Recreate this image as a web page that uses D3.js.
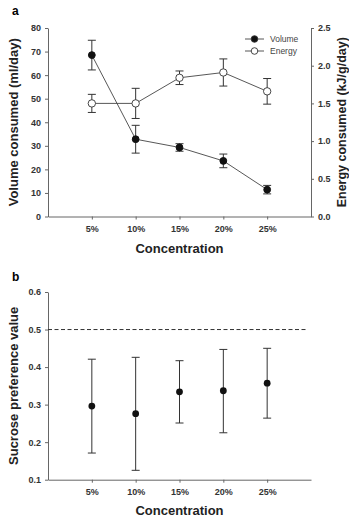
<!DOCTYPE html>
<html><head><meta charset="utf-8">
<script src="https://cdn.jsdelivr.net/npm/d3@7"></script>
<style>
body{margin:0;background:#fff;}
svg{display:block;font-family:"Liberation Sans",Arial,sans-serif;}
.tick text{font-weight:bold;fill:#333;font-size:9px;}
.domain,.tick line{stroke:#666;}
</style></head><body>
<script>
const categories = ["5%","10%","15%","20%","25%"];
const volume = [68.5, 32.8, 29.3, 23.6, 11.4];
const volumeErr = [6.3, 5.9, 1.6, 2.9, 1.8];
const energy = [1.50, 1.50, 1.84, 1.91, 1.66];
const energyErr = [0.12, 0.20, 0.09, 0.18, 0.17];
const preference = [0.296, 0.276, 0.334, 0.337, 0.357];
const prefLow = [0.171, 0.125, 0.251, 0.225, 0.264];
const prefHigh = [0.421, 0.426, 0.417, 0.447, 0.450];
const volTicks = [0,10,20,30,40,50,60,70,80];
const energyTicks = [0,0.5,1.0,1.5,2.0,2.5];
const prefTicks = [0.1,0.2,0.3,0.4,0.5,0.6];

const W=349,H=518;
const svg=d3.select("body").append("svg").attr("width",W).attr("height",H);
const x0=48,x1=311;
const x=d3.scaleLinear().domain([0,categories.length+1]).range([x0,x1]);
const R=3.4;

// ---- Panel a ----
const ya=d3.scaleLinear().domain([0,80]).range([216.5,28]);
const ye=d3.scaleLinear().domain([0,2.5]).range([216.5,28]);
const ga=svg.append("g");
ga.append("g").attr("transform",`translate(0,${ya(0)})`)
  .call(d3.axisBottom(x).tickValues(categories.map((c,i)=>i+1)).tickFormat((d)=>categories[d-1]).tickSize(3).tickPadding(6).tickSizeOuter(0));
ga.append("g").attr("transform",`translate(${x0},0)`)
  .call(d3.axisLeft(ya).tickValues(volTicks).tickSize(3).tickPadding(4).tickSizeOuter(0));
ga.append("g").attr("transform",`translate(${x1},0)`)
  .call(d3.axisRight(ye).tickValues(energyTicks).tickFormat(d3.format(".1f")).tickSize(3).tickPadding(4).tickSizeOuter(0));

function errBars(g,xs,lo,hi,cap){
  g.selectAll(null).data(xs.map((d,i)=>i)).join("g").each(function(i){
    const s=d3.select(this),cx=x(i+1);
    s.append("line").attr("x1",cx).attr("x2",cx).attr("y1",lo[i]).attr("y2",hi[i]).attr("stroke","#333").attr("stroke-width",1);
    [lo[i],hi[i]].forEach(yy=>s.append("line").attr("x1",cx-cap).attr("x2",cx+cap).attr("y1",yy).attr("y2",yy).attr("stroke","#333").attr("stroke-width",1));
  });
}
// Energy
errBars(ga,energy,energy.map((v,i)=>ye(v-energyErr[i])),energy.map((v,i)=>ye(v+energyErr[i])),4);
ga.append("path").datum(energy).attr("fill","none").attr("stroke","#444").attr("stroke-width",0.9)
  .attr("d",d3.line().x((d,i)=>x(i+1)).y(d=>ye(d)));
// Volume
errBars(ga,volume,volume.map((v,i)=>ya(v-volumeErr[i])),volume.map((v,i)=>ya(v+volumeErr[i])),4);
ga.append("path").datum(volume).attr("fill","none").attr("stroke","#444").attr("stroke-width",0.9)
  .attr("d",d3.line().x((d,i)=>x(i+1)).y(d=>ya(d)));
ga.selectAll(null).data(energy).join("circle").attr("cx",(d,i)=>x(i+1)).attr("cy",d=>ye(d)).attr("r",R+0.3)
  .attr("fill","#fff").attr("stroke","#333").attr("stroke-width",0.9);
ga.selectAll(null).data(volume).join("circle").attr("cx",(d,i)=>x(i+1)).attr("cy",d=>ya(d)).attr("r",R)
  .attr("fill","#111").attr("stroke","#111");

// Legend
const leg=[["Volume","#111"],["Energy","#fff"]];
leg.forEach((l,i)=>{
  const yy=39+i*12;
  ga.append("line").attr("x1",245).attr("x2",264).attr("y1",yy).attr("y2",yy).attr("stroke","#444").attr("stroke-width",0.9);
  ga.append("circle").attr("cx",254.5).attr("cy",yy).attr("r",3.3).attr("fill",l[1]).attr("stroke","#333").attr("stroke-width",0.9);
  ga.append("text").attr("x",270).attr("y",yy+3).attr("font-size",8.5).attr("fill","#444").text(l[0]);
});

svg.append("text").attr("x",12).attr("y",15).attr("font-size",12).attr("font-weight","bold").text("a");
svg.append("text").attr("transform",`translate(18,${ya(40)}) rotate(-90)`).attr("text-anchor","middle")
  .attr("font-size",13).attr("font-weight","bold").attr("fill","#222").text("Volume consumed (ml/day)");
svg.append("text").attr("transform",`translate(345.5,${ya(40)}) rotate(-90)`).attr("text-anchor","middle")
  .attr("font-size",12.5).attr("font-weight","bold").attr("fill","#222").text("Energy consumed (kJ/g/day)");
svg.append("text").attr("x",(x0+x1)/2).attr("y",253).attr("text-anchor","middle")
  .attr("font-size",13).attr("font-weight","bold").attr("fill","#222").text("Concentration");

// ---- Panel b ----
const yb=d3.scaleLinear().domain([0.1,0.6]).range([479.7,292]);
const gb=svg.append("g");
gb.append("g").attr("transform",`translate(0,${yb(0.1)})`)
  .call(d3.axisBottom(x).tickValues(categories.map((c,i)=>i+1)).tickFormat((d)=>categories[d-1]).tickSize(3).tickPadding(6).tickSizeOuter(0));
gb.append("g").attr("transform",`translate(${x0},0)`)
  .call(d3.axisLeft(yb).tickValues(prefTicks).tickFormat(d3.format(".1f")).tickSize(3).tickPadding(4).tickSizeOuter(0));
gb.append("line").attr("x1",x0).attr("x2",308).attr("y1",yb(0.5)).attr("y2",yb(0.5))
  .attr("stroke","#333").attr("stroke-width",1).attr("stroke-dasharray","4,2.5");
errBars(gb,preference,prefLow.map(v=>yb(v)),prefHigh.map(v=>yb(v)),4);
gb.selectAll(null).data(preference).join("circle").attr("cx",(d,i)=>x(i+1)).attr("cy",d=>yb(d)).attr("r",R)
  .attr("fill","#111");

svg.append("text").attr("x",12).attr("y",281).attr("font-size",12).attr("font-weight","bold").text("b");
svg.append("text").attr("transform",`translate(18,${yb(0.35)}) rotate(-90)`).attr("text-anchor","middle")
  .attr("font-size",13).attr("font-weight","bold").attr("fill","#222").text("Sucrose preference value");
svg.append("text").attr("x",(x0+x1)/2).attr("y",515).attr("text-anchor","middle")
  .attr("font-size",13).attr("font-weight","bold").attr("fill","#222").text("Concentration");
</script>
</body></html>
